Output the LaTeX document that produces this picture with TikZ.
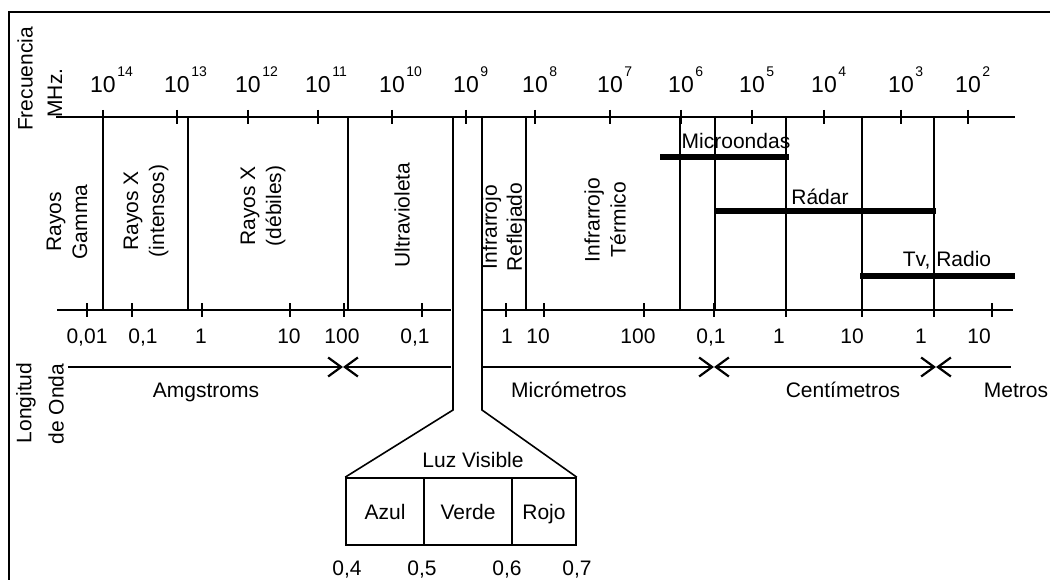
\documentclass[tikz,border=0pt]{standalone}
\usepackage{fontspec}
\setmainfont{Liberation Sans}
\usetikzlibrary{arrows.meta, positioning}

\newcommand\tenp[1]{10\rlap{\hspace{1.5pt}\raisebox{16pt}{\fontsize{14}{14}\selectfont #1}}}

\tikzset{
  rule/.style={line width=1.6pt},
  band/.style={line width=5.5pt},
  lbl/.style={font=\fontsize{21}{26}\selectfont, inner sep=0pt},
  vlbl/.style={lbl, rotate=90, align=center},
  cell/.style={draw, line width=1.6pt, minimum height=67pt, inner sep=0pt,
    text height=15pt, text depth=0pt, font=\fontsize{21}{26}\selectfont},
  wave/.tip={Straight Barb[length=13pt, width=19pt, line width=2.2pt]}
}

\begin{document}
\begin{tikzpicture}[x=1pt, y=-1pt]
  \useasboundingbox (0,0) rectangle (1050,580);
  % frame
  \draw[line width=2pt] (9,580) -- (9,12) -- (1050,12);

  % side titles
  \node[vlbl] (frec) at (25,79) {Frecuencia};
  \node[vlbl] (mhz) at (55,93) {MHz.};
  \node[vlbl] (long) at (26,403) {Longitud};
  \node[vlbl] (onda) at (56,404) {de Onda};

  % frequency axis
  \coordinate (fl) at (56,117);
  \coordinate (fr) at (1015,117);
  \draw[rule] (fl) -- (fr);
  \foreach \x/\e in {103/14,177/13,248/12,318/11,392/10,466/9,535/8,
      610/7,681/6,752/5,824/4,901/3,968/2} {
    \draw[rule] (\x,110) -- (\x,124);
    \node[lbl, font=\fontsize{23}{26}\selectfont, anchor=base] (f\e) at (\x,93) {\tenp{\e}};
  }

  % wavelength axis
  \coordinate (wl) at (57,310);
  \coordinate (wm) at (451,310);
  \coordinate (wn) at (482,310);
  \coordinate (wr) at (1013,310);
  \draw[rule] (wl) -- (wm);
  \draw[rule] (wn) -- (wr);
  \foreach \x in {87,132,202,290,344,422,506,544,644,714,786,862,934,992}
    \draw[rule] (\x,303) -- (\x,317);
  \foreach \x/\t in {87/{0,01},143/{0,1},201/1,289/10,342/100,415/{0,1},
      507/1,538/10,638/100,711/{0,1},779/1,852/10,921/1,979/10}
    \node[lbl, anchor=base] at (\x,343) {\t};

  % region boundaries
  \foreach \x [count=\i] in {103,188,348,526,680,715,786,862,934} {
    \coordinate (t\i) at (\x,117);
    \coordinate (b\i) at (\x,310);
    \draw[rule] (t\i) -- (b\i);
  }

  \node[vlbl] (gam) at (67,222) {Rayos\\Gamma};
  \node[vlbl] (xin) at (146,211) {Rayos X\\(intensos)};
  \node[vlbl] (xde) at (263,206) {Rayos X\\(débiles)};
  \node[vlbl] (uv) at (402,215) {Ultravioleta};
  \node[vlbl, font=\fontsize{21}{25}\selectfont] (irr) at (504,227) {Infrarrojo\\Reflejado};
  \node[vlbl] (irt) at (605,220) {Infrarrojo\\Térmico};

  % bands
  \coordinate (mw1) at (660,157);
  \coordinate (mw2) at (789,157);
  \coordinate (rd1) at (714,211);
  \coordinate (rd2) at (936,211);
  \coordinate (tv1) at (860,276);
  \coordinate (tv2) at (1015,276);
  \draw[band] (mw1) -- (mw2);
  \draw[band] (rd1) -- (rd2);
  \draw[band] (tv1) -- (tv2);
  \node[lbl, anchor=base] (mw) at (736,149) {Microondas};
  \node[lbl, anchor=base] (rd) at (820,205) {Rádar};
  \node[lbl, anchor=base] (tv) at (947,266) {Tv, Radio};

  % units
  \coordinate (u0) at (68,367);
  \coordinate (u1) at (343,367);
  \coordinate (u2) at (451,367);
  \coordinate (u3) at (482,367);
  \coordinate (u4) at (714,367);
  \coordinate (u5) at (936,367);
  \coordinate (u6) at (1011,367);
  \draw[rule, -wave] (u0) -- (u1);
  \draw[rule, wave-] (u1) -- (u2);
  \draw[rule, -wave] (u3) -- (u4);
  \draw[rule, wave-wave] (u4) -- (u5);
  \draw[rule, wave-] (u5) -- (u6);
  \node[lbl, anchor=base] (ang) at (206,397) {Amgstroms};
  \node[lbl, anchor=base] (mic) at (569,397) {Micrómetros};
  \node[lbl, anchor=base] (cen) at (843,397) {Centímetros};
  \node[lbl, anchor=base] (met) at (1016,397) {Metros};

  % visible light
  \node[cell, minimum width=78pt] (azul) at (385,511.5) {Azul};
  \node[cell, minimum width=88pt] (verde) at (468,511.5) {Verde};
  \node[cell, minimum width=64pt] (rojo) at (544,511.5) {Rojo};
  \coordinate (g1) at (453,117);
  \coordinate (g1b) at (453,410);
  \coordinate (g2) at (482,117);
  \coordinate (g2b) at (482,410);
  \draw[rule] (g1) -- (g1b) -- (azul.north west);
  \draw[rule] (g2) -- (g2b) -- (rojo.north east);
  \node[lbl, anchor=base] (luz) at (473,467) {Luz Visible};
  \foreach \x/\t in {347/{0,4},422/{0,5},507/{0,6},577/{0,7}}
    \node[lbl, anchor=base] at (\x,575) {\t};
\end{tikzpicture}
\end{document}
